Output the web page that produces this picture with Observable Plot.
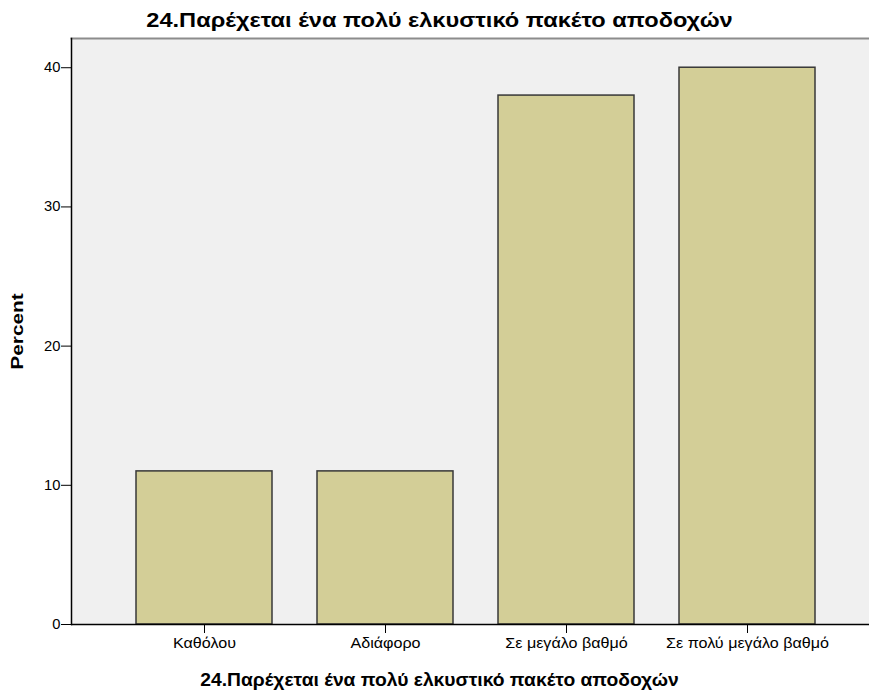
<!DOCTYPE html>
<html><head><meta charset="utf-8">
<script src="https://cdn.jsdelivr.net/npm/d3@7"></script>
<script src="https://cdn.jsdelivr.net/npm/@observablehq/plot@0.6"></script>
<style>body{margin:0;background:#fff} svg{display:block}</style>
</head><body><div id="chart"></div>
<script>
const categories = ["Καθόλου", "Αδιάφορο", "Σε μεγάλο βαθμό", "Σε πολύ μεγάλο βαθμό"];
const percents = [11, 11, 38, 40];
const yTicks = [0, 10, 20, 30, 40];
const title = "24.Παρέχεται ένα πολύ ελκυστικό πακέτο αποδοχών";
const xLabel = "24.Παρέχεται ένα πολύ ελκυστικό πακέτο αποδοχών";
const yLabel = "Percent";

const data = categories.map((c, i) => ({category: c, percent: percents[i]}));
const font = "'Liberation Sans', Arial, sans-serif";

const chart = Plot.plot({
  width: 869, height: 693,
  marginLeft: 71, marginRight: 0, marginTop: 38, marginBottom: 69,
  style: {fontFamily: font, fontSize: "14px", color: "#000", background: "#fff"},
  x: {domain: categories, paddingInner: 45 / 182, paddingOuter: 0.316, align: 0.548, label: null},
  y: {domain: [0, 42.1], label: null},
  marks: [
    Plot.frame({fill: "#f0f0f0", stroke: null}),
    Plot.frame({anchor: "top", stroke: "#8c8c8c", strokeWidth: 2}),
    Plot.barY(data, {x: "category", y: "percent", fill: "#d3ce97", stroke: "#383838", strokeWidth: 1.5}),
    Plot.frame({anchor: "left", stroke: "#000", strokeWidth: 1.5}),
    Plot.ruleY([0], {stroke: "#000", strokeWidth: 1.5}),
    Plot.axisY({ticks: yTicks, tickSize: 10, tickPadding: 1, tickFormat: d => d, fontSize: 14, label: null}),
    Plot.axisX({tickSize: 9, tickPadding: 5, fontSize: 14, label: null}),
    Plot.text([title], {frameAnchor: "top", lineAnchor: "middle", dx: -31, dy: -18, fontWeight: "bold", fontSize: 20, className: "ttl"}),
    Plot.text([xLabel], {frameAnchor: "bottom", lineAnchor: "middle", dx: -31, dy: 56, fontWeight: "bold", fontSize: 18, className: "xlab"}),
    Plot.text([yLabel], {frameAnchor: "left", textAnchor: "middle", lineAnchor: "middle", dx: -54, rotate: -90, fontWeight: "bold", fontSize: 16, className: "ylab"})
  ]
});
document.getElementById("chart").appendChild(chart);

// widen glyphs to match the wide rendering of the original
function stretch(selector, k) {
  chart.querySelectorAll(selector).forEach(t => {
    const len = t.getComputedTextLength();
    if (len > 0) {
      t.setAttribute("textLength", (len * k).toFixed(1));
      t.setAttribute("lengthAdjust", "spacingAndGlyphs");
    }
  });
}
stretch(".ttl text", 1.18);
stretch(".xlab text", 1.07);
stretch('g[aria-label="x-axis tick label"] text', 1.15);
stretch('g[aria-label="y-axis tick label"] text', 1.05);
// rotated label: stretch along its own direction around its anchor
chart.querySelectorAll(".ylab text").forEach(t => {
  const tr = t.getAttribute("transform") || "";
  t.setAttribute("transform", tr + " scale(1.3,1)");
});
</script>
</body></html>
